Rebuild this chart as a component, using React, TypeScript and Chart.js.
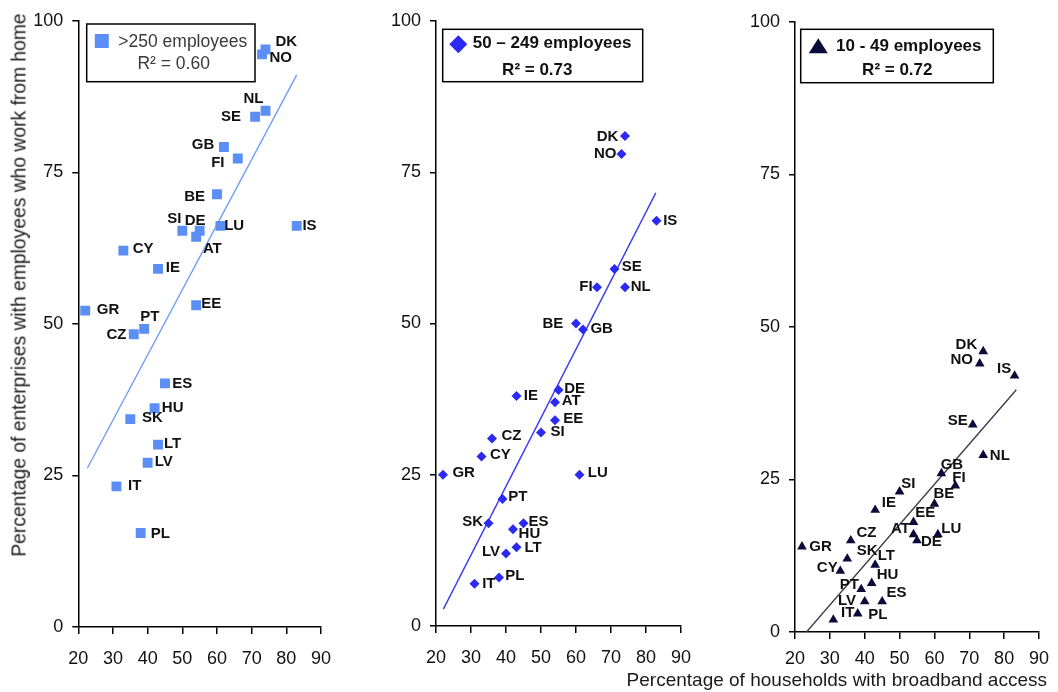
import React, { useEffect, useRef } from 'react';
import { Chart, registerables } from 'chart.js';

Chart.register(...registerables);

const FONT = "'Liberation Sans', Arial, Helvetica, sans-serif";

// ---------------- DATA ----------------
const countries = ['DK','NO','NL','SE','GB','FI','BE','SI','DE','AT','LU','IS','CY','IE','GR','EE','PT','CZ','ES','HU','SK','LT','LV','IT','PL'];
// Percentage of households with broadband access
const broadband = [74,73,74,71,62,66,60,50,55,54,61,83,33,43,22,54,39,36,45,42,35,43,40,31,38];
// Percentage of enterprises with employees who work from home
const large = [95.3,94.5,85.2,84.2,79.2,77.3,71.4,65.4,65.4,64.4,66.2,66.2,62.1,59.1,52.2,53.1,49.2,48.3,40.2,36.1,34.3,30.1,27.1,23.2,15.5];
const medium = [81,78,56,59,49,56,50,32,39,37,25,67,28,38,25,34,21,31,17,16,17,13,12,7,8];
const small = [46,44,29,34,26,24,21,23,15,16,16,42,10,20,14,18,7,15,5,8,12,11,5,2,3];
// Trend-line end points
const trendLargeX = [22.6, 83.0];
const trendLargeY = [26.2, 91.1];
const trendMediumX = [22.1, 82.8];
const trendMediumY = [2.8, 71.6];
const trendSmallX = [23.3, 83.5];
const trendSmallY = [0, 39.7];
const seriesNames = ['>250 employees', '50 \u2013 249 employees', '10 - 49 employees'];
const r2Labels = ['R\u00B2 = 0.60', 'R\u00B2 = 0.73', 'R\u00B2 = 0.72'];
const xTicks = [20, 30, 40, 50, 60, 70, 80, 90];
const yTicks = [0, 25, 50, 75, 100];

// ---------------- LABEL PLACEMENT (style) ----------------
type Place = [string, number, number];
const place1: Record<string, Place> = {
  DK: ['r', 10, -7.6], NO: ['r', 7.4, 4], NL: ['l', -2, -11.4], SE: ['l', -14, 0.6],
  GB: ['l', -9.7, -2], FI: ['l', -13.3, 4], BE: ['l', -12, 3], SI: ['l', -1, -11.4],
  DE: ['c', -4.6, -10], AT: ['r', 6.7, 12.6], LU: ['r', 3.7, 0], IS: ['r', 5.7, 0],
  CY: ['r', 9.4, -1.4], IE: ['r', 7.7, -0.7], GR: ['r', 11.6, -0.7], EE: ['r', 5, -1],
  PT: ['r', -4, -12.3], CZ: ['l', -7.3, 1], ES: ['r', 7.3, 0.7], HU: ['r', 7.3, -0.7],
  SK: ['r', 11.7, -1], LT: ['r', 6, -1], LV: ['r', 7, -1], IT: ['r', 11.6, -0.7], PL: ['r', 10, 0.7],
};
const place2: Record<string, Place> = {
  DK: ['l', -6.7, 0.7], NO: ['l', -5, 0], NL: ['r', 5.7, -0.6], SE: ['r', 7.3, -2],
  GB: ['r', 7.4, -0.7], FI: ['l', -4.4, -0.6], BE: ['l', -12.7, 0], SI: ['r', 9.4, -1],
  DE: ['r', 5.7, -0.7], AT: ['r', 6.7, -1], LU: ['r', 8.3, -2], IS: ['r', 6.7, 0.7],
  CY: ['r', 8.4, -2], IE: ['r', 7.3, -0.7], GR: ['r', 9.4, -2], EE: ['r', 8.3, -1.7],
  PT: ['r', 5.7, -2.3], CZ: ['r', 9.4, -2.3], ES: ['r', 5, -1], HU: ['r', 5.6, 4.7],
  SK: ['l', -5.3, -1], LT: ['r', 8, 1], LV: ['l', -6, -2], IT: ['r', 7.7, 0], PL: ['r', 6.3, -1.6],
};
const place3: Record<string, Place> = {
  DK: ['l', -6, -6.7], NO: ['l', -6.7, -4], NL: ['r', 6.6, 0.3], SE: ['l', -5, -3.3],
  GB: ['r', -0.7, -9], FI: ['r', -3, -7.6], BE: ['r', -1, -9.7], SI: ['r', 1.7, -7.7],
  DE: ['r', 4, 1.7], AT: ['l', -3.6, -6], LU: ['r', 3.4, -5.4], IS: ['l', -3.3, -6.7],
  CY: ['l', -2.6, -3.6], IE: ['r', 6.7, -7.6], GR: ['r', 7.3, 0], EE: ['r', 1.7, -9.3],
  PT: ['l', -2.3, -4.3], CZ: ['r', 5.7, -7.6], ES: ['r', 4.3, -9], HU: ['r', 5, -8],
  SK: ['r', 9.4, -7.7], LT: ['r', 2.6, -8.6], LV: ['l', -8.6, -1], IT: ['r', 7.7, -6.6], PL: ['r', 10.6, 0.7],
};

interface PanelCfg {
  left: number; width: number; yW: number; padTop: number; padRight: number; xH: number; padBottom: number; xPad: number;
  values: number[]; trendX: number[]; trendY: number[];
  color: string; lineColor: string; pointStyle: string; radius: number;
  place: Record<string, Place>; name: string; r2: string; bold: boolean; textColor: string; legendFont: number;
  box: number[]; marker: number[]; nameAt: number[]; r2At: number[]; markerSize: number;
}

const panels: PanelCfg[] = [
  {
    left: 0, width: 345, yW: 78.3, padTop: 21, padRight: 21, xH: 60, padBottom: 5, xPad: 14,
    values: large, trendX: trendLargeX, trendY: trendLargeY,
    color: '#5b8ff5', lineColor: '#6f9ef6', pointStyle: 'rect', radius: 7,
    place: place1, name: seriesNames[0], r2: r2Labels[0], bold: false, textColor: '#3a3a3a', legendFont: 17.5,
    box: [8.4, 3, 168.3, 57.7], marker: [23.5, 20], nameAt: [40, 20.7], r2At: [95.4, 43.3], markerSize: 14,
  },
  {
    left: 360, width: 345, yW: 76, padTop: 21, padRight: 22.3, xH: 60, padBottom: 6, xPad: 14,
    values: medium, trendX: trendMediumX, trendY: trendMediumY,
    color: '#2a2af2', lineColor: '#3c3cf0', pointStyle: 'rectRot', radius: 5,
    place: place2, name: seriesNames[1], r2: r2Labels[1], bold: true, textColor: '#111', legendFont: 17,
    box: [6.7, 8.3, 200, 52.4], marker: [22.3, 23.3], nameAt: [36.7, 22.3], r2At: [101.3, 49], markerSize: 9,
  },
  {
    left: 713, width: 345, yW: 82, padTop: 22, padRight: 18, xH: 60, padBottom: 0, xPad: 9,
    values: small, trendX: trendSmallX, trendY: trendSmallY,
    color: '#0b0b3a', lineColor: '#3d3d52', pointStyle: 'triangle', radius: 5.6,
    place: place3, name: seriesNames[2], r2: r2Labels[2], bold: true, textColor: '#111', legendFont: 17,
    box: [5.7, 7.3, 192.6, 53.4], marker: [23.3, 24.7], nameAt: [41, 24], r2At: [102.3, 48], markerSize: 10,
  },
];

function drawMarker(ctx: CanvasRenderingContext2D, style: string, x: number, y: number, s: number) {
  ctx.beginPath();
  if (style === 'rect') {
    ctx.rect(x - s / 2, y - s / 2, s, s);
  } else if (style === 'rectRot') {
    ctx.moveTo(x, y - s); ctx.lineTo(x + s, y); ctx.lineTo(x, y + s); ctx.lineTo(x - s, y); ctx.closePath();
  } else {
    ctx.moveTo(x, y - s * 0.85); ctx.lineTo(x + s * 0.95, y + s * 0.65); ctx.lineTo(x - s * 0.95, y + s * 0.65); ctx.closePath();
  }
  ctx.fill();
}

function buildConfig(p: PanelCfg): any {
  const points = countries.map((c, i) => ({ x: broadband[i], y: p.values[i] }));
  const trend = p.trendX.map((x, i) => ({ x, y: p.trendY[i] }));
  const labelPlugin = {
    id: 'ptLabels',
    afterDatasetsDraw(chart: any) {
      const meta = chart.getDatasetMeta(0);
      const ctx = chart.ctx as CanvasRenderingContext2D;
      ctx.save();
      ctx.font = `bold 15px ${FONT}`;
      ctx.fillStyle = '#111';
      ctx.textBaseline = 'middle';
      meta.data.forEach((el: any, i: number) => {
        const pl = p.place[countries[i]];
        ctx.textAlign = pl[0] === 'l' ? 'right' : pl[0] === 'c' ? 'center' : 'left';
        ctx.fillText(countries[i], el.x + pl[1], el.y + pl[2]);
      });
      ctx.restore();
    },
  };
  const legendPlugin = {
    id: 'boxLegend',
    afterDraw(chart: any) {
      const ctx = chart.ctx as CanvasRenderingContext2D;
      const a = chart.chartArea;
      ctx.save();
      const bx = a.left + p.box[0], by = a.top + p.box[1];
      ctx.fillStyle = '#fff';
      ctx.fillRect(bx, by, p.box[2], p.box[3]);
      ctx.strokeStyle = '#000';
      ctx.lineWidth = 1.5;
      ctx.strokeRect(bx, by, p.box[2], p.box[3]);
      ctx.fillStyle = p.color;
      drawMarker(ctx, p.pointStyle, a.left + p.marker[0], a.top + p.marker[1], p.markerSize);
      ctx.fillStyle = p.textColor;
      ctx.font = `${p.bold ? 'bold ' : ''}${p.legendFont}px ${FONT}`;
      ctx.textBaseline = 'middle';
      ctx.textAlign = 'left';
      ctx.fillText(p.name, a.left + p.nameAt[0], a.top + p.nameAt[1]);
      ctx.textAlign = 'center';
      ctx.fillText(p.r2, a.left + p.r2At[0], a.top + p.r2At[1]);
      ctx.restore();
    },
  };
  return {
    type: 'scatter',
    data: {
      datasets: [
        {
          data: points,
          pointStyle: p.pointStyle,
          pointRadius: p.radius,
          pointHoverRadius: p.radius,
          backgroundColor: p.color,
          borderColor: p.color,
          borderWidth: 0,
          showLine: false,
        },
        {
          data: trend,
          showLine: true,
          pointRadius: 0,
          borderColor: p.lineColor,
          borderWidth: 1.4,
          fill: false,
        },
      ],
    },
    options: {
      animation: false,
      responsive: false,
      maintainAspectRatio: false,
      layout: { padding: { left: 0, top: p.padTop, right: p.padRight, bottom: p.padBottom } },
      plugins: { legend: { display: false }, tooltip: { enabled: false } },
      scales: {
        x: {
          type: 'linear', min: 20, max: 90,
          afterBuildTicks(s: any) { s.ticks = xTicks.map((v) => ({ value: v })); },
          ticks: { color: '#111', font: { size: 18, family: FONT }, padding: p.xPad, autoSkip: false, maxRotation: 0 },
          grid: { display: true, drawOnChartArea: false, drawTicks: true, tickLength: 7, color: '#000', lineWidth: 1.5 },
          border: { display: true, color: '#000', width: 1.5 },
          afterFit(s: any) { s.height = p.xH; },
        },
        y: {
          type: 'linear', min: 0, max: 100,
          afterBuildTicks(s: any) { s.ticks = yTicks.map((v) => ({ value: v })); },
          ticks: { color: '#111', font: { size: 18, family: FONT }, padding: 9 },
          grid: { display: true, drawOnChartArea: false, drawTicks: true, tickLength: 6, color: '#000', lineWidth: 1.5 },
          border: { display: true, color: '#000', width: 1.5 },
          afterFit(s: any) { s.width = p.yW; },
        },
      },
    },
    plugins: [labelPlugin, legendPlugin],
  };
}

function Panel({ p }: { p: PanelCfg }) {
  const ref = useRef<HTMLCanvasElement | null>(null);
  useEffect(() => {
    if (!ref.current) return;
    const chart = new Chart(ref.current, buildConfig(p));
    return () => chart.destroy();
  }, [p]);
  return (
    <canvas
      ref={ref}
      width={p.width}
      height={692}
      style={{ position: 'absolute', left: p.left, top: 0, width: p.width, height: 692 }}
    />
  );
}

export default function App() {
  return (
    <div style={{ position: 'absolute', left: 0, top: 0, width: 1058, height: 692, background: '#fff', overflow: 'hidden' }}>
      {panels.map((p, i) => (
        <Panel key={i} p={p} />
      ))}
      <div
        style={{
          position: 'absolute', left: 19, top: 284.5, whiteSpace: 'nowrap',
          font: `19.3px ${FONT}`, lineHeight: '19px', color: '#1a1a1a',
          transform: 'translate(-50%, -50%) rotate(-90deg)',
        }}
      >
        Percentage of enterprises with employees who work from home
      </div>
      <div
        style={{
          position: 'absolute', right: 11, top: 670, whiteSpace: 'nowrap',
          font: `19px ${FONT}`, lineHeight: '19px', color: '#1a1a1a',
        }}
      >
        Percentage of households with broadband access
      </div>
    </div>
  );
}
